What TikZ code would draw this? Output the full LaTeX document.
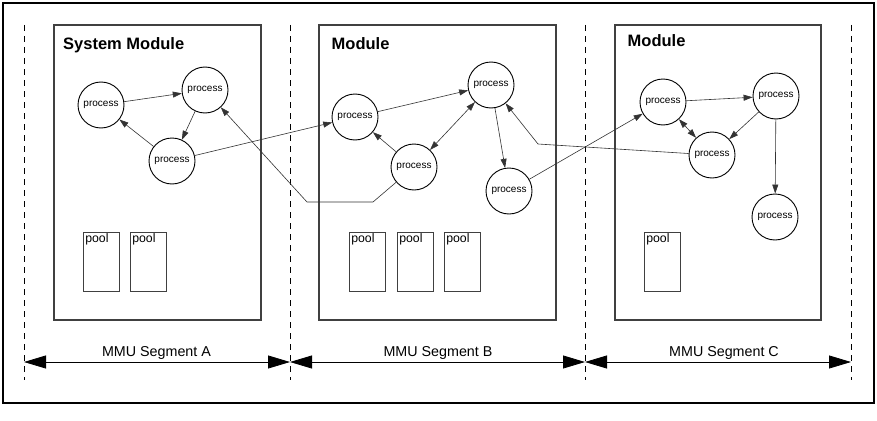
\documentclass[tikz,border=0pt]{standalone}
\usepackage{fontspec}
\setmainfont{Liberation Sans}
\usetikzlibrary{arrows.meta}
\begin{document}
\begin{tikzpicture}[x=1pt,y=-1pt,
 proc/.style={circle,draw=black,line width=0.9pt,minimum size=46pt,inner sep=0pt,fill=white,font=\fontsize{10}{12}\selectfont},
 modbox/.style={draw=black!75,line width=1.1pt,inner sep=0pt},
 poolbox/.style={draw=black!75,line width=0.9pt,minimum width=36pt,minimum height=59pt,inner sep=0pt},
 pooltxt/.style={anchor=north west,inner xsep=2.5pt,inner ysep=1.5pt,font=\fontsize{12.3}{14}\selectfont},
 title/.style={anchor=base west,inner sep=0pt,font=\fontsize{16.5}{18}\selectfont\bfseries},
 seglbl/.style={anchor=base,inner sep=0pt,font=\fontsize{14.3}{16}\selectfont},
 segdiv/.style={dash pattern=on 6pt off 5pt,line width=0.8pt},
 link/.style={draw=black!80,line width=0.6pt,-{Triangle[length=9pt,width=6pt]}},
 link2/.style={draw=black!80,line width=0.6pt,{Triangle[length=9pt,width=6pt]}-{Triangle[length=9pt,width=6pt]}},
 segarrow/.style={line width=0.8pt,{Triangle[length=22pt,width=13pt]}-{Triangle[length=22pt,width=13pt]}}
]
\useasboundingbox (0,0) rectangle (877,420);
% outer frame
\draw[line width=2pt] (2.5,3.5) rectangle (874,402.5);
% dashed dividers
\foreach \x in {24,290,585,851} \draw[segdiv] (\x,25) -- (\x,380);
% modules
\node[modbox,minimum width=207pt,minimum height=295pt] (mA) at (157.5,172.5) {};
\node[modbox,minimum width=237pt,minimum height=295pt] (mB) at (437.5,172.5) {};
\node[modbox,minimum width=206pt,minimum height=295pt] (mC) at (718,172.5) {};
\node[title] (tA) at (63,49) {System Module};
\node[title] (tB) at (331.5,49) {Module};
\node[title] (tC) at (627.5,46) {Module};
% pools
\node[poolbox] (pa1) at (101,261.5) {};
\node[poolbox] (pa2) at (148,261.5) {};
\node[poolbox] (pb1) at (367,261.5) {};
\node[poolbox] (pb2) at (415,261.5) {};
\node[poolbox] (pb3) at (462,261.5) {};
\node[poolbox] (pc1) at (662,261.5) {};
\foreach \p in {pa1,pa2,pb1,pb2,pb3,pc1} \node[pooltxt] (\p t) at (\p.north west) {pool};
% processes
\node[proc] (P1) at (101,105) {process};
\node[proc] (P2) at (205,90) {process};
\node[proc] (P3) at (172,161) {process};
\node[proc] (Q1) at (355,117) {process};
\node[proc] (Q2) at (491,85) {process};
\node[proc] (Q3) at (414,167) {process};
\node[proc] (Q4) at (509,191) {process};
\node[proc] (R1) at (663,102) {process};
\node[proc] (R2) at (776,96) {process};
\node[proc] (R3) at (712,155) {process};
\node[proc] (R4) at (775,217) {process};
% bends
\coordinate (k1) at (373,202);
\coordinate (k2) at (307,202);
\coordinate (k3) at (538,144);
% links
\draw[link] (P1) -- (P2);
\draw[link] (P2) -- (P3);
\draw[link] (P3) -- (P1);
\draw[link] (P3) -- (Q1);
\draw[link] (Q3) -- (k1) -- (k2) -- (P2);
\draw[link] (Q1) -- (Q2);
\draw[link2] (Q2) -- (Q3);
\draw[link] (Q3) -- (Q1);
\draw[link] (Q2) -- (Q4);
\draw[link] (Q4) -- (R1);
\draw[link] (R3) -- (k3) -- (Q2);
\draw[link] (R1) -- (R2);
\draw[link2] (R1) -- (R3);
\draw[link] (R2) -- (R3);
\draw[link] (R2) -- (R4);
% segments
\coordinate (s0) at (24,362);
\coordinate (s1) at (290,362);
\coordinate (s2) at (585,362);
\coordinate (s3) at (851,362);
\draw[segarrow] (s0) -- (s1);
\draw[segarrow] (s1) -- (s2);
\draw[segarrow] (s2) -- (s3);
\node[seglbl] (lA) at (156.5,356) {MMU Segment A};
\node[seglbl] (lB) at (438,356) {MMU Segment B};
\node[seglbl] (lC) at (724,356) {MMU Segment C};
\end{tikzpicture}
\end{document}
